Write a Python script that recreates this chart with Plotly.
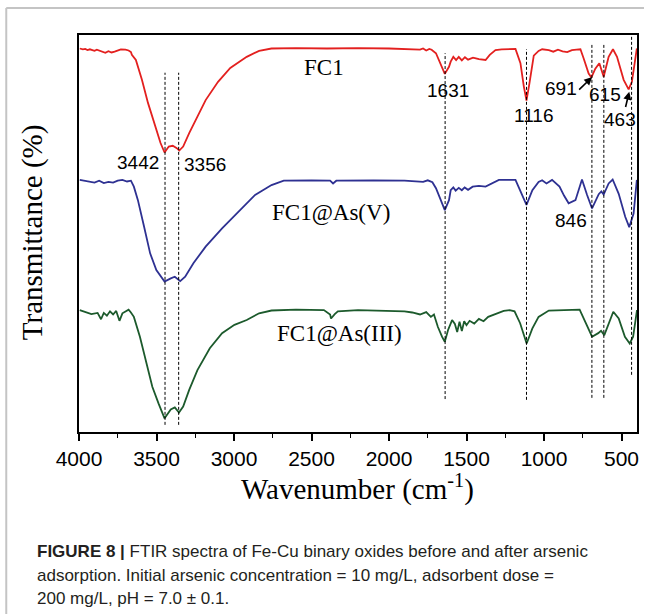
import plotly.graph_objects as go

# ---------------- data (arbitrary transmittance units) ----------------
fc1_wn = [3995, 3975, 3960, 3945, 3930, 3915, 3900, 3885, 3870, 3850, 3830, 3810, 3790, 3770, 3750,
          3730, 3700, 3680, 3665,
          3659, 3633, 3594, 3555, 3514, 3474, 3448, 3421, 3395, 3369, 3353, 3328, 3289, 3236, 3183,
          3103, 3024, 2918, 2838, 2758, 2600, 2400, 2200, 2000, 1900, 1800, 1780, 1760, 1740, 1725,
          1697, 1666, 1640, 1613, 1602, 1585, 1567, 1550, 1530, 1510, 1490, 1458, 1420, 1377, 1350,
          1313, 1273, 1184, 1152, 1130, 1113, 1094, 1066, 1035, 1012, 969, 940, 910, 880, 850, 820,
          790, 765, 744, 712, 694, 669, 643, 615, 583, 555, 529, 486, 454, 433, 401]
fc1_t = [96.6, 96.4, 96.5, 96.2, 96.4, 96.1, 96.0, 96.3, 96.1, 95.7, 95.5, 95.9, 95.6, 95.8, 96.2,
         96.4, 96.3, 96.1, 95.7,
         95.0, 93.7, 88.7, 82.9, 77.8, 72.8, 70.4, 71.9, 72.1, 71.5, 70.9, 71.9, 75.3, 79.4, 83.6,
         88.2, 91.7, 94.5, 96.0, 96.6, 96.7, 96.6, 96.7, 96.6, 96.5, 96.3, 96.6, 96.1, 96.5, 96.3,
         95.4, 92.4, 90.2, 92.0, 93.3, 94.5, 93.7, 94.5, 93.6, 94.4, 93.8, 94.3, 93.9, 93.7, 95.0,
         96.2, 96.4, 96.5, 92.9, 87.0, 83.5, 87.8, 94.8, 96.0, 96.4, 96.2, 95.8, 96.3, 95.9, 95.7, 96.2,
         96.3, 96.4, 94.1, 90.3, 89.3, 91.5, 92.9, 89.5, 94.5, 96.4, 94.5, 88.7, 86.3, 88.2, 96.6]

asv_wn = [3995, 3950, 3900, 3870, 3840, 3810, 3780, 3750, 3720, 3690, 3665, 3646, 3620, 3580, 3541,
          3501, 3448, 3408, 3382, 3347, 3315, 3262, 3183, 3077, 2970, 2864, 2758, 2679, 2500, 2380,
          2361, 2340, 2100, 1900, 1780, 1750, 1720, 1697, 1671, 1640, 1613, 1602, 1585, 1570, 1550,
          1530, 1512, 1490, 1460, 1420, 1377, 1340, 1291, 1184, 1154, 1141, 1113, 1075, 1035, 1012,
          984, 948, 900, 870, 841, 797, 755, 722, 690, 647, 630, 615, 583, 557, 518, 476, 450, 422, 401]
asv_t = [63.5, 63.2, 62.8, 63.3, 62.7, 63.0, 62.8, 63.3, 63.5, 63.1, 63.3, 61.8, 58.4, 51.7, 45.0,
         40.8, 37.9, 38.7, 39.1, 38.0, 39.1, 42.5, 46.7, 51.3, 55.5, 59.7, 62.2, 63.3, 63.4, 63.3,
         62.6, 63.3, 63.4, 63.3, 63.0, 63.4, 62.9, 61.4, 58.9, 55.9, 58.4, 60.9, 61.6, 60.8, 61.5,
         60.9, 61.6, 61.0, 61.8, 62.0, 61.8, 62.5, 63.5, 63.5, 60.9, 59.9, 57.2, 60.9, 63.0, 63.4,
         62.6, 63.5, 61.8, 59.5, 57.6, 58.4, 63.6, 59.7, 56.3, 59.9, 60.6, 59.8, 62.6, 63.6, 60.0, 54.2,
         51.6, 55.0, 63.5]

asiii_wn = [3995, 3950, 3920, 3880, 3858, 3840, 3820, 3800, 3780, 3760, 3739, 3720, 3700, 3680, 3665,
            3646, 3607, 3567, 3527, 3487, 3448, 3408, 3382, 3355, 3328, 3289, 3236, 3156, 3077, 2997,
            2918, 2838, 2758, 2600, 2420, 2380, 2374, 2350, 2330, 2200, 2000, 1900, 1850, 1800, 1760,
            1730, 1710, 1685, 1658, 1640, 1619, 1593, 1575, 1560, 1545, 1530, 1515, 1500, 1480, 1450,
            1420, 1390, 1360, 1327, 1260, 1221, 1190, 1154, 1112, 1075, 1035, 969, 900, 770, 730, 690,
            650, 632, 611, 584, 553, 518, 478, 447, 425, 400]
asiii_t = [30.7, 30.2, 29.7, 30.0, 28.4, 30.0, 29.3, 30.4, 29.6, 30.5, 28.0, 29.9, 30.3, 30.8, 30.1,
           29.0, 24.0, 17.3, 11.4, 7.2, 3.45, 5.7, 6.2, 4.9, 6.4, 10.6, 15.6, 21.1, 24.9, 27.0,
           28.2, 29.9, 30.6, 30.8, 30.7, 29.6, 28.6, 29.7, 30.4, 30.7, 30.6, 30.4, 30.1, 29.6, 30.2,
           29.0, 29.6, 26.5, 24.0, 22.7, 25.7, 28.2, 27.2, 25.2, 27.8, 25.4, 27.9, 26.9, 28.0, 27.3,
           28.5, 27.9, 29.0, 29.5, 30.5, 30.7, 30.4, 27.4, 22.3, 26.1, 29.0, 30.6, 30.7, 30.8, 27.4, 24.0,
           24.9, 25.5, 24.4, 27.4, 30.3, 28.6, 24.0, 22.3, 24.0, 30.7]

series_names = ["FC1", "FC1@As(V)", "FC1@As(III)"]
series_colors = ["#e3201f", "#2e3192", "#1c5a2c"]

# dashed guide lines at band positions
guide_wn = [3445, 3357, 1638, 1113, 691, 614, 435]
guide_top = [90.5, 90.5, 95.4, 96.4, 97.5, 97.5, 100.0]
guide_bottom = [1.8, 1.8, 8.3, 8.1, 8.6, 8.6, 14.4]

# band labels
band_text = ["3442", "3356", "1631", "1116", "691", "615", "463", "846"]
band_x = [3617, 3189, 1619, 1066, 892, 609, 509, 828]
band_y = [68.0, 67.3, 86.1, 79.8, 86.6, 84.9, 78.6, 53.4]

# arrows (tail -> head)
arrow_tail_x = [783, 476]
arrow_tail_y = [85.9, 81.5]
arrow_head_x = [689, 450]
arrow_head_y = [89.4, 85.7]

# sample labels
sample_x = [2417, 2372, 2320]
sample_y = [91.7, 55.4, 24.9]

x_range = [4000, 400]
y_range = [0, 100]
x_tickvals = [4000, 3500, 3000, 2500, 2000, 1500, 1000, 500]
x_minorvals = [3750, 3250, 2750, 2250, 1750, 1250, 750]

caption_lines = [
    "<b>FIGURE 8 |</b> FTIR spectra of Fe-Cu binary oxides before and after arsenic",
    "adsorption. Initial arsenic concentration = 10 mg/L, adsorbent dose =",
    "200 mg/L, pH = 7.0 ± 0.1.",
]

# ---------------- figure ----------------
W, H = 646, 614
ML, MR, MT, MB = 79, 7, 35, 182
PW, PH = W - ML - MR, H - MT - MB


def px(xp):
    return (xp - ML) / PW


def py(yp):
    return (H - MB - yp) / PH


fig = go.Figure()
for wn, t, name, col in zip([fc1_wn, asv_wn, asiii_wn], [fc1_t, asv_t, asiii_t],
                            series_names, series_colors):
    fig.add_trace(go.Scatter(x=wn, y=t, mode="lines", name=name,
                             line=dict(color=col, width=1.8), showlegend=False))

shapes = []
for gx, gt, gb in zip(guide_wn, guide_top, guide_bottom):
    shapes.append(dict(type="line", xref="x", yref="y", x0=gx, x1=gx, y0=gb, y1=gt,
                       line=dict(color="black", width=1, dash="3px,2px"), layer="above"))
# outer page frame (grey)
shapes.append(dict(type="line", xref="paper", yref="paper", x0=px(6), x1=px(646), y0=py(8), y1=py(8),
                   line=dict(color="#c4c4c4", width=2)))
shapes.append(dict(type="line", xref="paper", yref="paper", x0=px(6), x1=px(6), y0=py(8), y1=py(614),
                   line=dict(color="#c4c4c4", width=2)))

annotations = []
for txt, x, y in zip(series_names, sample_x, sample_y):
    annotations.append(dict(x=x, y=y, xref="x", yref="y", text=txt, showarrow=False,
                            xanchor="center", yanchor="middle",
                            font=dict(family="Liberation Serif", size=23, color="black")))
for txt, x, y in zip(band_text, band_x, band_y):
    annotations.append(dict(x=x, y=y, xref="x", yref="y", text=txt, showarrow=False,
                            xanchor="center", yanchor="middle",
                            font=dict(family="Liberation Sans", size=19, color="black")))
for tx, ty, hx, hy in zip(arrow_tail_x, arrow_tail_y, arrow_head_x, arrow_head_y):
    annotations.append(dict(x=hx, y=hy, ax=tx, ay=ty, xref="x", yref="y", axref="x", ayref="y",
                            text="", showarrow=True, arrowhead=2, arrowsize=1, arrowwidth=1.6,
                            arrowcolor="black"))
# axis titles
annotations.append(dict(x=px(32), y=py(232), xref="paper", yref="paper", text="Transmittance (%)",
                        textangle=-90, showarrow=False, xanchor="center", yanchor="middle",
                        font=dict(family="Liberation Serif", size=29, color="black")))
annotations.append(dict(x=px(358), y=py(487), xref="paper", yref="paper",
                        text="Wavenumber (cm<sup>-1</sup>)", showarrow=False,
                        xanchor="center", yanchor="middle",
                        font=dict(family="Liberation Serif", size=29, color="black")))
# caption
for line, yy in zip(caption_lines, [551, 575, 598]):
    annotations.append(dict(x=px(35), y=py(yy), xref="paper", yref="paper", text=line,
                            xanchor="left", yanchor="middle", showarrow=False,
                            font=dict(family="Liberation Sans", size=17, color="#231f20")))

fig.update_layout(
    width=W, height=H, margin=dict(l=ML, r=MR, t=MT, b=MB),
    paper_bgcolor="white", plot_bgcolor="white",
    shapes=shapes, annotations=annotations,
    xaxis=dict(range=x_range, tickvals=x_tickvals, ticks="outside", ticklen=7, tickwidth=1.5,
               tickcolor="black", showline=True, linecolor="black", linewidth=2, mirror=True,
               showgrid=False, zeroline=False,
               tickfont=dict(family="Liberation Sans", size=21, color="black"),
               minor=dict(tickvals=x_minorvals, ticks="outside",
                          ticklen=4, tickwidth=1.2, tickcolor="black", showgrid=False)),
    yaxis=dict(range=y_range, showticklabels=False, ticks="", showline=True, linecolor="black",
               linewidth=2, mirror=True, showgrid=False, zeroline=False),
)

fig.write_html("out.html")
